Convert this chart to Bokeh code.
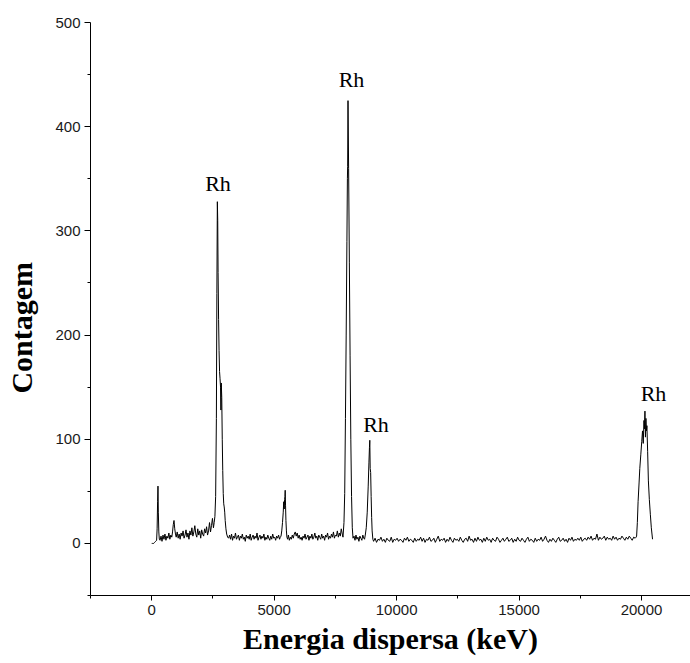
from bokeh.plotting import figure
from bokeh.models import FixedTicker, Range1d, ColumnDataSource
from bokeh.core.properties import value
from bokeh.embed import file_html
from bokeh.resources import INLINE

# ---- spectrum values (energy in keV, counts) ----
seg1_x = [0, 40, 80, 120, 160, 200, 220, 240, 255, 270,
          290, 310, 340, 380, 420, 460, 500, 540, 580, 620,
          660, 700, 740, 780, 820, 850, 880, 910, 940, 970,
          1000, 1040, 1080, 1120, 1160, 1200, 1240, 1280, 1320, 1360,
          1400, 1440, 1480, 1520, 1560, 1600, 1640, 1680, 1720, 1760,
          1800, 1840, 1880, 1920, 1960, 2000, 2040, 2080, 2120, 2160,
          2200, 2240, 2280, 2320, 2360, 2400, 2440, 2480, 2520, 2550]
seg1_y = [0, 0, 0, 1, 2, 3, 14, 40, 55, 30,
          11, 4, 3, 7, 2, 8, 4, 9, 3, 7,
          5, 10, 4, 8, 6, 11, 18, 22, 14, 9,
          6, 11, 5, 9, 4, 10, 7, 12, 5, 8,
          13, 6, 10, 4, 12, 8, 15, 7, 11, 17,
          9, 6, 14, 8, 12, 5, 13, 9, 7, 14,
          10, 16, 8, 12, 20, 11, 17, 24, 15, 20]

seg2_x = [2580, 2610, 2640, 2660, 2680, 2695, 2710, 2730, 2750, 2770,
          2790, 2810, 2825, 2840, 2860, 2880, 2900, 2920, 2940, 2960,
          2980, 3000, 3030, 3060, 3100]
seg2_y = [26, 45, 120, 240, 328, 310, 260, 215, 185, 165,
          158, 150, 128, 154, 140, 100, 70, 48, 38, 35,
          30, 22, 14, 9, 6]

seg3_x = [3140, 3180, 3220, 3260, 3300, 3340, 3380, 3420, 3460, 3500,
          3540, 3580, 3620, 3660, 3700, 3740, 3780, 3820, 3860, 3900,
          3940, 3980, 4020, 4060, 4100, 4140, 4180, 4220, 4260, 4300,
          4340, 4380, 4420, 4460, 4500, 4540, 4580, 4620, 4660, 4700,
          4740, 4780, 4820, 4860, 4900, 4940, 4980, 5020, 5060, 5100,
          5140, 5180, 5220, 5250]
seg3_y = [5, 8, 4, 9, 3, 7, 5, 10, 4, 6,
          8, 3, 7, 5, 9, 4, 6, 2, 8, 5,
          7, 4, 9, 3, 6, 8, 4, 7, 5, 10,
          3, 6, 8, 4, 7, 5, 9, 3, 6, 4,
          8, 5, 3, 7, 4, 9, 5, 6, 3, 7,
          5, 8, 4, 6]

seg4_x = [5280, 5310, 5340, 5370, 5390, 5410, 5425, 5440, 5450, 5465,
          5480, 5500, 5520, 5550, 5580]
seg4_y = [7, 12, 20, 30, 40, 33, 42, 45, 51, 36,
          22, 12, 6, 4, 8]

seg5_x = [5620, 5660, 5700, 5740, 5780, 5820, 5860, 5900, 5940, 5980,
          6020, 6060, 6100, 6140, 6180, 6220, 6260, 6300, 6340, 6380,
          6420, 6460, 6500, 6540, 6580, 6620, 6660, 6700, 6740, 6780,
          6820, 6860, 6900, 6940, 6980, 7020, 7060, 7100, 7140, 7180,
          7220, 7260, 7300, 7340, 7380, 7420, 7460, 7500, 7540, 7580,
          7620, 7660, 7700, 7740, 7780]
seg5_y = [3, 6, 4, 8, 5, 9, 11, 7, 10, 5,
          8, 4, 6, 3, 7, 5, 9, 4, 6, 8,
          3, 7, 5, 9, 4, 6, 10, 5, 7, 3,
          8, 6, 4, 9, 5, 7, 3, 8, 6, 10,
          4, 7, 5, 9, 6, 11, 5, 8, 7, 12,
          6, 10, 7, 14, 9]

seg6_x = [7810, 7850, 7880, 7910, 7940, 7970, 7990, 8000, 8015, 8040,
          8070, 8100, 8130, 8160, 8190, 8220]
seg6_y = [6, 20, 48, 120, 200, 290, 350, 362, 425, 360,
          270, 180, 100, 45, 15, 5]

seg7_x = [8260, 8300, 8340, 8380, 8420, 8460, 8500, 8540, 8580, 8620, 8660]
seg7_y = [7, 3, 8, 4, 6, 2, 7, 5, 3, 8, 5]

seg8_x = [8690, 8720, 8760, 8800, 8840, 8870, 8890, 8905, 8920, 8940,
          8960, 8980, 9000, 9030]
seg8_y = [4, 8, 15, 30, 55, 78, 92, 99, 72, 68,
          45, 25, 12, 4]

seg9_x = [9060, 9120, 9180, 9240, 9300, 9360, 9420, 9480, 9540, 9600,
          9660, 9720, 9780, 9840, 9900, 9960, 10020, 10080, 10140, 10200,
          10260, 10320, 10380, 10440, 10500, 10560, 10620, 10680, 10740, 10800,
          10860, 10920, 10980, 11040, 11100, 11160, 11220, 11280, 11340, 11400,
          11460, 11520, 11580, 11640, 11700, 11760, 11820, 11880, 11940, 12000,
          12060, 12120, 12180, 12240, 12300, 12360, 12420, 12480, 12540, 12600,
          12660, 12720, 12780, 12840, 12900, 12960, 13020, 13080, 13140, 13200,
          13260, 13320, 13380, 13440, 13500, 13560, 13620, 13680, 13740, 13800,
          13860, 13920, 13980, 14040, 14100, 14160, 14220, 14280, 14340, 14400,
          14460, 14520, 14580, 14640, 14700, 14760, 14820, 14880, 14940, 15000,
          15060, 15120, 15180, 15240, 15300, 15360, 15420, 15480, 15540, 15600,
          15660, 15720, 15780, 15840, 15900, 15960, 16020, 16080, 16140, 16200,
          16260, 16320, 16380, 16440, 16500, 16560, 16620, 16680, 16740, 16800,
          16860, 16920, 16980, 17040, 17100, 17160, 17220, 17280, 17340, 17400,
          17460, 17520, 17580, 17640, 17700, 17760, 17820, 17880, 17940, 18000,
          18060, 18120, 18180, 18240, 18300, 18360, 18420, 18480, 18540, 18600,
          18660, 18720, 18780, 18840, 18900, 18960, 19020, 19080, 19140, 19200,
          19260, 19320, 19380, 19440, 19500, 19560, 19620, 19680, 19740]
seg9_y = [2, 5, 1, 4, 3, 6, 2, 4, 1, 5,
          3, 2, 6, 1, 4, 3, 5, 2, 4, 3,
          1, 5, 3, 6, 2, 4, 3, 1, 5, 2,
          4, 3, 6, 2, 5, 1, 4, 3, 6, 2,
          3, 5, 1, 4, 7, 2, 4, 3, 5, 1,
          4, 2, 6, 3, 1, 5, 3, 4, 2, 6,
          3, 1, 4, 5, 2, 7, 3, 4, 1, 5,
          2, 6, 3, 4, 1, 5, 2, 6, 3, 4,
          1, 5, 3, 2, 6, 4, 1, 3, 5, 2,
          4, 6, 2, 3, 5, 1, 4, 2, 6, 3,
          2, 5, 3, 1, 4, 6, 2, 4, 3, 1,
          5, 2, 4, 3, 6, 2, 4, 7, 3, 1,
          4, 2, 5, 3, 1, 4, 6, 2, 3, 5,
          2, 4, 1, 5, 3, 6, 2, 4, 3, 5,
          3, 6, 2, 4, 5, 3, 6, 4, 7, 3,
          5, 4, 9, 3, 6, 4, 5, 7, 3, 6,
          4, 5, 3, 7, 4, 6, 3, 5, 4, 7,
          5, 3, 6, 4, 7, 5, 3, 6, 5]

seg10_x = [19780, 19800, 19830, 19860, 19900, 19930, 19970, 20010, 20040, 20070,
           20100, 20120, 20140, 20160, 20180, 20200, 20220, 20250, 20280, 20320,
           20360, 20400, 20450]
seg10_y = [6, 7, 20, 40, 58, 72, 85, 98, 108, 96,
           118, 110, 127, 102, 120, 108, 113, 88, 60, 42,
           28, 15, 4]

# peak annotations
peak_labels = ["Rh", "Rh", "Rh", "Rh"]
peak_label_x = [2707, 8158, 9159, 20490]
peak_label_y = [345, 445, 114, 144]

x_ticks = [0, 5000, 10000, 15000, 20000]
x_minor = [-2500, 2500, 7500, 12500, 17500]
y_ticks = [0, 100, 200, 300, 400, 500]
y_minor = [-50, 50, 150, 250, 350, 450]

x_title = "Energia dispersa (keV)"
y_title = "Contagem"

energy = []
counts = []
for sx, sy in [(seg1_x, seg1_y), (seg2_x, seg2_y), (seg3_x, seg3_y), (seg4_x, seg4_y),
               (seg5_x, seg5_y), (seg6_x, seg6_y), (seg7_x, seg7_y), (seg8_x, seg8_y),
               (seg9_x, seg9_y), (seg10_x, seg10_y)]:
    n = min(len(sx), len(sy))
    energy.extend(sx[:n])
    counts.extend(sy[:n])

p = figure(width=690, height=663, output_backend="svg", toolbar_location=None,
           x_range=Range1d(-2500, 22000), y_range=Range1d(-50, 500),
           min_border_left=90, min_border_right=0, min_border_top=22, min_border_bottom=68)
p.background_fill_color = "white"
p.border_fill_color = "white"
p.outline_line_color = None
p.xgrid.visible = False
p.ygrid.visible = False

p.line(energy, counts, line_color="black", line_width=1)

src = ColumnDataSource(dict(x=peak_label_x, y=peak_label_y, t=peak_labels))
p.text(x="x", y="y", text="t", source=src, text_font=value("Liberation Serif"),
       text_font_size="22px", text_align="center", text_baseline="alphabetic",
       text_color="black")

for ax in (p.xaxis[0], p.yaxis[0]):
    ax.axis_line_color = "black"
    ax.axis_line_width = 1
    ax.major_tick_line_color = "black"
    ax.minor_tick_line_color = "black"
    ax.major_tick_in = 0
    ax.minor_tick_in = 0
    ax.minor_tick_out = 3
    ax.major_label_text_font = "Liberation Sans"
    ax.major_label_text_font_size = "15px"
    ax.major_label_text_color = "#1a1a1a"
    ax.major_label_standoff = 4
    ax.axis_label_text_font = "Liberation Serif"
    ax.axis_label_text_font_style = "bold"
    ax.axis_label_text_font_size = "30px"
    ax.axis_label_text_color = "black"

p.xaxis.ticker = FixedTicker(ticks=x_ticks, minor_ticks=x_minor)
p.yaxis.ticker = FixedTicker(ticks=y_ticks, minor_ticks=y_minor)
p.xaxis.major_tick_out = 5
p.yaxis.major_tick_out = 6

p.xaxis.axis_label = x_title
p.xaxis.axis_label_standoff = 4

# trailing no-break spaces move the centred title a little lower, as in the original
p.yaxis.axis_label = y_title + "\u00a0" * 5
p.yaxis.axis_label_standoff = 14

open("out.html", "w").write(file_html(p, INLINE))
